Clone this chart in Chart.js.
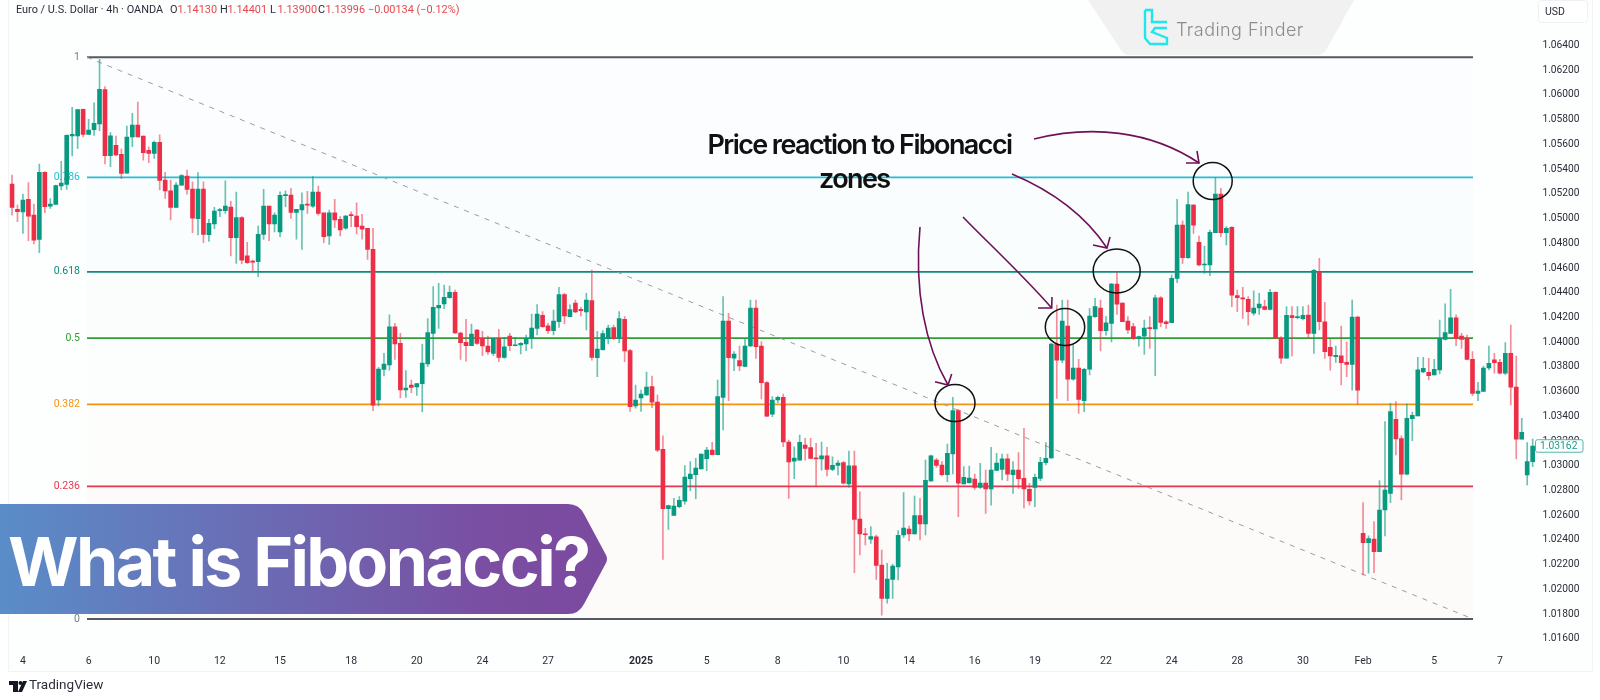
<!DOCTYPE html>
<html>
<head>
<meta charset="utf-8">
<title>What is Fibonacci?</title>
<script src="https://cdn.jsdelivr.net/npm/chart.js@4/dist/chart.umd.min.js"></script>
<style>
	html, body { margin: 0; padding: 0; background: #fff; }
	canvas { display: block; }
</style>
</head>
<body>
<canvas id="fibChart" width="1600" height="700"></canvas>
<script>
const opens = [
	1.05279,1.05074,1.05053,1.05155,1.05028,1.04832,1.05374,1.05101,1.05115,1.05263,
	1.05277,1.05668,1.05668,1.05883,1.05681,1.05719,1.05765,1.06043,1.05508,1.05592,
	1.05519,1.05368,1.05660,1.05757,1.05668,1.05552,1.05527,1.05616,1.05312,1.05225,
	1.05090,1.05271,1.05344,1.05239,1.04999,1.05239,1.04869,1.04956,1.05064,1.05064,
	1.05093,1.04845,1.05007,1.04699,1.04656,1.04651,1.04872,1.05101,1.04956,1.04891,
	1.05185,1.05190,1.05050,1.05069,1.05117,1.05101,1.05215,1.05047,1.04859,1.05047,
	1.04993,1.04923,1.05028,1.05020,1.04940,1.04921,1.04751,1.03532,1.03780,1.03815,
	1.04123,1.03990,1.03613,1.03653,1.03637,1.03664,1.03823,1.04071,1.04276,1.04309,
	1.04360,1.04403,1.04074,1.03998,1.03971,1.04098,1.04031,1.03969,1.03909,1.04028,
	1.03877,1.04050,1.03971,1.03977,1.03985,1.04028,1.04112,1.04217,1.04131,1.04093,
	1.04166,1.04384,1.04206,1.04317,1.04265,1.04244,1.04336,1.03874,1.03939,1.04028,
	1.04117,1.04028,1.04185,1.03931,1.03483,1.03548,1.03572,1.03640,1.03515,1.03133,
	1.02653,1.02599,1.02669,1.02714,1.02895,1.02928,1.02974,1.03057,1.03127,1.03089,
	1.03553,1.04171,1.03871,1.03850,1.03804,1.03969,1.04276,1.03969,1.03672,1.03418,
	1.03532,1.03553,1.03192,1.03036,1.03046,1.03168,1.03146,1.03065,1.03055,1.03081,
	1.02971,1.03003,1.03025,1.02852,1.03000,1.02569,1.02448,1.02405,1.02424,1.02197,
	1.01927,1.02080,1.02181,1.02440,1.02488,1.02448,1.02596,1.02529,1.02877,1.03046,
	1.03006,1.02928,1.03095,1.03446,1.02852,1.02863,1.02893,1.02825,1.02860,1.02812,
	1.02963,1.02971,1.03055,1.02928,1.02965,1.02898,1.02809,1.02825,1.02898,1.03025,
	1.03063,1.03985,1.03855,1.04130,1.03701,1.03790,1.03526,1.03782,1.04206,1.04276,
	1.04092,1.04152,1.04470,1.04316,1.04171,1.04125,1.04028,1.04049,1.04114,1.04106,
	1.04359,1.04165,1.04157,1.04516,1.04947,1.04683,1.05109,1.04807,1.04624,1.04624,
	1.04885,1.05198,1.04885,1.04929,1.04376,1.04359,1.04346,1.04235,1.04276,1.04287,
	1.04265,1.04403,1.04030,1.03871,1.04214,1.04198,1.04189,1.04219,1.04071,1.04565,
	1.04165,1.03958,1.03882,1.03890,1.03836,1.03820,1.04203,1.02453,1.02378,1.02407,
	1.02305,1.02642,1.02777,1.03376,1.03219,1.02931,1.03381,1.03403,1.03759,1.03756,
	1.03734,1.03775,1.04023,1.04071,1.04196,1.04050,1.04031,1.03861,1.03586,1.03602,
	1.03791,1.03856,1.03837,1.03748,1.03910,1.03637,1.03214,1.02925,1.03033
];
const highs = [
	1.05352,1.05109,1.05198,1.05290,1.05117,1.05441,1.05379,1.05161,1.05271,1.05463,
	1.05678,1.05900,1.05883,1.05886,1.05802,1.05937,1.06288,1.06067,1.05695,1.05668,
	1.05562,1.05749,1.05851,1.05943,1.05668,1.05581,1.05627,1.05678,1.05374,1.05312,
	1.05290,1.05355,1.05393,1.05298,1.05371,1.05298,1.04993,1.05090,1.05082,1.05306,
	1.05139,1.05215,1.05015,1.04807,1.04664,1.04940,1.05236,1.05101,1.05047,1.05217,
	1.05225,1.05244,1.05074,1.05209,1.05220,1.05339,1.05263,1.05042,1.05069,1.05155,
	1.05015,1.05026,1.05055,1.05128,1.05034,1.04921,1.04921,1.03796,1.03909,1.04220,
	1.04152,1.04071,1.03769,1.03693,1.03666,1.03985,1.04190,1.04449,1.04476,1.04462,
	1.04454,1.04422,1.04082,1.04185,1.04147,1.04104,1.04087,1.04050,1.04031,1.04104,
	1.04039,1.04071,1.04039,1.03996,1.04058,1.04228,1.04303,1.04247,1.04152,1.04260,
	1.04443,1.04395,1.04301,1.04341,1.04282,1.04395,1.04584,1.04087,1.04093,1.04139,
	1.04139,1.04247,1.04206,1.03941,1.03653,1.03613,1.03758,1.03726,1.03572,1.03241,
	1.02682,1.02736,1.02750,1.03001,1.03033,1.03060,1.03095,1.03149,1.03189,1.03693,
	1.04368,1.04233,1.03923,1.03969,1.04031,1.04341,1.04341,1.04004,1.03680,1.03559,
	1.03564,1.03580,1.03208,1.03154,1.03249,1.03222,1.03222,1.03181,1.03192,1.03149,
	1.03073,1.03041,1.03033,1.03119,1.03119,1.02788,1.02494,1.02507,1.02440,1.02318,
	1.02210,1.02205,1.02475,1.02782,1.02512,1.02755,1.02736,1.03046,1.03087,1.03060,
	1.03033,1.03176,1.03553,1.03457,1.02993,1.02998,1.02933,1.03020,1.02965,1.03149,
	1.03101,1.03095,1.03095,1.03033,1.03106,1.03303,1.02858,1.02933,1.03068,1.03187,
	1.03990,1.04300,1.04341,1.04341,1.03977,1.03860,1.03788,1.04273,1.04354,1.04341,
	1.04206,1.04475,1.04570,1.04319,1.04206,1.04152,1.04049,1.04179,1.04206,1.04381,
	1.04368,1.04173,1.04543,1.05155,1.04982,1.05214,1.05112,1.04858,1.04777,1.04907,
	1.05330,1.05244,1.04934,1.04934,1.04421,1.04443,1.04368,1.04416,1.04395,1.04341,
	1.04427,1.04408,1.04044,1.04287,1.04287,1.04287,1.04287,1.04300,1.04589,1.04678,
	1.04322,1.04022,1.03968,1.04130,1.04003,1.04341,1.04211,1.02701,1.02432,1.02548,
	1.02879,1.03357,1.03505,1.03519,1.03241,1.03500,1.03435,1.03877,1.03877,1.03869,
	1.03861,1.04179,1.04309,1.04427,1.04220,1.04071,1.04058,1.03923,1.03675,1.03807,
	1.03969,1.03910,1.03861,1.03996,1.04139,1.03888,1.03384,1.03187,1.03216
];
const lows = [
	1.05028,1.04975,1.04880,1.04821,1.04794,1.04724,1.05047,1.05082,1.05115,1.05231,
	1.05236,1.05506,1.05568,1.05660,1.05681,1.05673,1.05711,1.05441,1.05420,1.05506,
	1.05322,1.05366,1.05581,1.05660,1.05473,1.05452,1.05487,1.05231,1.05163,1.04988,
	1.05090,1.05268,1.05198,1.04886,1.04867,1.04805,1.04815,1.04918,1.05015,1.05042,
	1.04697,1.04637,1.04632,1.04637,1.04570,1.04529,1.04832,1.04821,1.04891,1.04853,
	1.05096,1.05001,1.04834,1.04751,1.05042,1.05090,1.05028,1.04805,1.04791,1.04929,
	1.04859,1.04912,1.04934,1.04875,1.04834,1.04670,1.03446,1.03483,1.03726,1.03774,
	1.03861,1.03548,1.03553,1.03591,1.03569,1.03435,1.03801,1.03861,1.04112,1.04271,
	1.04355,1.04071,1.03861,1.03847,1.03971,1.03982,1.03890,1.03901,1.03890,1.03842,
	1.03869,1.03931,1.03969,1.03904,1.03931,1.03950,1.04058,1.04120,1.04071,1.04058,
	1.04120,1.04147,1.04206,1.04239,1.04212,1.04098,1.03855,1.03720,1.03936,1.03985,
	1.04023,1.03996,1.03842,1.03440,1.03465,1.03440,1.03569,1.03470,1.03114,1.02243,
	1.02485,1.02599,1.02661,1.02690,1.02798,1.02733,1.02974,1.02960,1.03087,1.03087,
	1.03289,1.03526,1.03769,1.03769,1.03801,1.03963,1.03869,1.03540,1.03397,1.03397,
	1.03510,1.03154,1.02736,1.02896,1.03046,1.03046,1.03055,1.02831,1.02965,1.02917,
	1.02960,1.02925,1.02852,1.02825,1.02135,1.02278,1.02359,1.02372,1.02080,1.01792,
	1.01889,1.01927,1.02076,1.02421,1.02394,1.02448,1.02399,1.02440,1.02874,1.02987,
	1.02917,1.02871,1.02933,1.02588,1.02852,1.02858,1.02809,1.02817,1.02615,1.02682,
	1.02960,1.02885,1.02879,1.02777,1.02817,1.02658,1.02682,1.02669,1.02879,1.03006,
	1.03060,1.03545,1.03833,1.03526,1.03693,1.03424,1.03437,1.03734,1.04200,1.03928,
	1.04057,1.04001,1.04225,1.04165,1.04071,1.04022,1.03968,1.03901,1.03950,1.03728,
	1.04125,1.04111,1.04157,1.04481,1.04637,1.04678,1.04880,1.04616,1.04556,1.04537,
	1.04885,1.04853,1.04786,1.04287,1.04246,1.04192,1.04138,1.04219,1.04225,1.04260,
	1.04260,1.04030,1.03828,1.03869,1.03888,1.04187,1.04179,1.04030,1.03909,1.04098,
	1.03869,1.03774,1.03836,1.03653,1.03720,1.03612,1.03499,1.02116,1.02130,1.02135,
	1.02305,1.02432,1.02701,1.03087,1.02723,1.02925,1.03203,1.03403,1.03753,1.03694,
	1.03734,1.03742,1.04018,1.04071,1.03972,1.03950,1.03856,1.03567,1.03527,1.03602,
	1.03775,1.03748,1.03742,1.03737,1.03492,1.03055,1.03214,1.02844,1.02993
];
const closes = [
	1.05090,1.05055,1.05150,1.05020,1.04826,1.05374,1.05096,1.05117,1.05266,1.05287,
	1.05673,1.05681,1.05881,1.05681,1.05716,1.05770,1.06045,1.05508,1.05670,1.05514,
	1.05366,1.05660,1.05757,1.05660,1.05533,1.05527,1.05616,1.05309,1.05223,1.05090,
	1.05271,1.05347,1.05236,1.05004,1.05239,1.04872,1.04961,1.05061,1.05066,1.05101,
	1.04845,1.05007,1.04664,1.04643,1.04648,1.04872,1.05101,1.04956,1.05028,1.05188,
	1.05190,1.05050,1.05074,1.05112,1.05109,1.05215,1.05042,1.04853,1.05047,1.04988,
	1.04907,1.05020,1.05023,1.04934,1.04915,1.04751,1.03491,1.03782,1.03823,1.04123,
	1.03985,1.03613,1.03629,1.03634,1.03664,1.03831,1.04077,1.04282,1.04298,1.04363,
	1.04403,1.04074,1.03996,1.03971,1.04066,1.03990,1.03969,1.03920,1.04031,1.03877,
	1.03963,1.03971,1.03977,1.03990,1.04031,1.04114,1.04228,1.04125,1.04093,1.04171,
	1.04384,1.04212,1.04263,1.04244,1.04255,1.04341,1.03877,1.03944,1.04069,1.04114,
	1.04028,1.04190,1.03928,1.03478,1.03532,1.03580,1.03637,1.03515,1.03127,1.02653,
	1.02677,1.02674,1.02720,1.02909,1.02933,1.02982,1.03095,1.03127,1.03089,1.03559,
	1.04171,1.03874,1.03904,1.03807,1.03969,1.04276,1.03963,1.03672,1.03402,1.03532,
	1.03553,1.03192,1.03030,1.03063,1.03189,1.03141,1.03060,1.03055,1.03081,1.02971,
	1.03003,1.03022,1.02858,1.03000,1.02566,1.02448,1.02442,1.02426,1.02194,1.01927,
	1.02084,1.02189,1.02437,1.02496,1.02448,1.02596,1.02529,1.02882,1.03081,1.03003,
	1.02928,1.03101,1.03446,1.02858,1.02906,1.02901,1.02825,1.02860,1.02812,1.02965,
	1.03022,1.03055,1.02931,1.02965,1.02896,1.02812,1.02715,1.02906,1.03028,1.03060,
	1.03985,1.03855,1.04171,1.03701,1.03790,1.03537,1.03780,1.04211,1.04287,1.04092,
	1.04157,1.04470,1.04308,1.04165,1.04098,1.04028,1.04044,1.04114,1.04109,1.04359,
	1.04160,1.04149,1.04516,1.04947,1.04683,1.05112,1.04947,1.04624,1.04629,1.04888,
	1.05198,1.04885,1.04920,1.04381,1.04359,1.04349,1.04246,1.04276,1.04308,1.04265,
	1.04403,1.04033,1.03871,1.04216,1.04198,1.04206,1.04216,1.04071,1.04581,1.04165,
	1.03923,1.03888,1.03893,1.03833,1.03820,1.04203,1.03612,1.02378,1.02410,1.02305,
	1.02642,1.02804,1.03438,1.03216,1.02931,1.03384,1.03408,1.03775,1.03788,1.03729,
	1.03780,1.04031,1.04077,1.04196,1.04028,1.04023,1.03861,1.03586,1.03605,1.03791,
	1.03829,1.03834,1.03748,1.03910,1.03635,1.03214,1.03270,1.03033,1.03160
];

// date labels and the candle each one sits under
const timeTicks = ["4","6","10","12","15","18","20","24","27","2025","5","8","10","14","16","19","22","24","28","30","Feb","5","7"];
const timeTickIndexes = [2,14,26,38,49,62,74,86,98,115,127,140,152,164,176,187,200,212,224,236,247,260,272];

const fibRatios = [1, 0.786, 0.618, 0.5, 0.382, 0.236, 0];
const fibNames = ["1", "0.786", "0.618", "0.5", "0.382", "0.236", "0"];
const fibColors = ["#555862", "#22bfd8", "#0f8a7e", "#2f9e33", "#f2940f", "#e5384f", "#555862"];
const fibFills = ["rgba(120,123,134,0.004)", "rgba(0,188,212,0.012)", "rgba(0,150,136,0.006)", "rgba(76,175,80,0.003)", "rgba(255,152,0,0.012)", "rgba(242,54,69,0.02)"];
const fibHigh = 1.06305;
const fibLow = 1.0176;
const fibStart = 13.71;
const fibEnd = 267.1;

const lastPrice = "1.03162";
const green = "#089981";
const red = "#ec2f47";
const greenWick = "rgba(8,153,129,0.6)";
const redWick = "rgba(236,47,71,0.55)";
const tickFont = "Roboto";

const labels = opens.map((o, i) => {
	const k = timeTickIndexes.indexOf(i);
	return k < 0 ? "" : timeTicks[k];
});

function fibPrice(r) {
	return fibLow + r * (fibHigh - fibLow);
}

const fibPlugin = {
	id: "fibLevels",
	beforeDatasetsDraw(chart) {
		const ctx = chart.ctx;
		const xs = chart.scales.x;
		const ys = chart.scales.y;
		const x0 = xs.getPixelForValue(fibStart);
		const x1 = xs.getPixelForValue(fibEnd);
		ctx.save();
		fibFills.forEach((c, i) => {
			const a = ys.getPixelForValue(fibPrice(fibRatios[i]));
			const b = ys.getPixelForValue(fibPrice(fibRatios[i + 1]));
			ctx.fillStyle = c;
			ctx.fillRect(x0, a, x1 - x0, b - a);
		});
		ctx.font = "10.5px " + tickFont;
		ctx.textAlign = "right";
		ctx.textBaseline = "middle";
		fibRatios.forEach((r, i) => {
			const y = ys.getPixelForValue(fibPrice(r));
			ctx.strokeStyle = fibColors[i];
			ctx.lineWidth = 1.8;
			ctx.beginPath();
			ctx.moveTo(x0, y);
			ctx.lineTo(x1, y);
			ctx.stroke();
			ctx.fillStyle = i === 0 || i === 6 ? "#787b86" : fibColors[i];
			ctx.fillText(fibNames[i], x0 - 7, y);
		});
		// trend line between the two anchors
		ctx.strokeStyle = "#9a9ca5";
		ctx.lineWidth = 1;
		ctx.setLineDash([5, 6]);
		ctx.beginPath();
		ctx.moveTo(x0, ys.getPixelForValue(fibHigh));
		ctx.lineTo(x1, ys.getPixelForValue(fibLow));
		ctx.stroke();
		ctx.restore();
	},
};

function arrow(ctx, path, tip, a, b) {
	ctx.beginPath();
	ctx.moveTo(path[0], path[1]);
	ctx.bezierCurveTo(path[2], path[3], path[4], path[5], tip[0], tip[1]);
	ctx.stroke();
	ctx.beginPath();
	ctx.moveTo(a[0], a[1]);
	ctx.lineTo(tip[0], tip[1]);
	ctx.lineTo(b[0], b[1]);
	ctx.stroke();
}

function ring(ctx, x, y, rx, ry) {
	ctx.beginPath();
	ctx.ellipse(x, y, rx, ry, 0, 0, Math.PI * 2);
	ctx.stroke();
}

const overlayPlugin = {
	id: "overlay",
	beforeDraw(chart) {
		const ctx = chart.ctx;
		ctx.save();
		ctx.fillStyle = "#fff";
		ctx.fillRect(0, 0, 1600, 700);
		ctx.fillStyle = "#fdfefe";
		ctx.fillRect(9, 0, 1583, 671);
		ctx.strokeStyle = "#f1f3f5";
		ctx.lineWidth = 1;
		ctx.beginPath();
		ctx.moveTo(8.5, 0);
		ctx.lineTo(8.5, 671.5);
		ctx.lineTo(1592.5, 671.5);
		ctx.lineTo(1592.5, 0);
		ctx.stroke();
		ctx.restore();
	},
	afterDraw(chart) {
		const ctx = chart.ctx;
		ctx.save();

		// legend row
		ctx.textAlign = "left";
		ctx.textBaseline = "middle";
		ctx.font = "10.9px " + tickFont;
		ctx.fillStyle = "#2a2e39";
		ctx.fillText("Euro / U.S. Dollar · 4h · OANDA", 16, 10);
		[["O", "1.14130", 170], ["H", "1.14401", 220], ["L", "1.13900", 270], ["C", "1.13996", 318]].forEach((p) => {
			ctx.fillStyle = "#2a2e39";
			ctx.fillText(p[0], p[2], 10);
			ctx.fillStyle = "#e5484d";
			ctx.fillText(p[1], p[2] + 7.5, 10);
		});
		ctx.fillText("−0.00134 (−0.12%)", 368, 10);

		// watermark
		ctx.fillStyle = "#f1f1f1";
		ctx.beginPath();
		ctx.moveTo(1088, 0);
		ctx.lineTo(1354, 0);
		ctx.lineTo(1326, 50);
		ctx.quadraticCurveTo(1323, 55, 1316, 55);
		ctx.lineTo(1130, 55);
		ctx.quadraticCurveTo(1124, 55, 1121, 50);
		ctx.closePath();
		ctx.fill();
		ctx.strokeStyle = "#22e6ee";
		ctx.lineWidth = 2.4;
		ctx.beginPath();
		ctx.moveTo(1145, 10);
		ctx.lineTo(1152, 10);
		ctx.lineTo(1152, 22);
		ctx.lineTo(1167, 22);
		ctx.moveTo(1167, 28);
		ctx.lineTo(1155, 28);
		ctx.lineTo(1152, 32);
		ctx.lineTo(1167, 38);
		ctx.lineTo(1167, 44);
		ctx.lineTo(1150, 44);
		ctx.lineTo(1145, 38);
		ctx.lineTo(1145, 10);
		ctx.stroke();
		ctx.fillStyle = "#8b8b8b";
		ctx.font = "300 18px Inter";
		ctx.letterSpacing = "0.45px";
		ctx.fillText("Trading Finder", 1176, 31);
		ctx.letterSpacing = "0px";

		// USD box
		ctx.fillStyle = "#fff";
		ctx.strokeStyle = "#eef0f3";
		ctx.lineWidth = 1;
		ctx.beginPath();
		ctx.roundRect(1538.5, 0.5, 49, 22, 3);
		ctx.fill();
		ctx.stroke();
		ctx.fillStyle = "#2a2e39";
		ctx.font = "10.5px " + tickFont;
		ctx.fillText("USD", 1545, 12);

		// last price box
		const py = chart.scales.y.getPixelForValue(parseFloat(lastPrice));
		ctx.fillStyle = "#fff";
		ctx.strokeStyle = "#4fb8a6";
		ctx.beginPath();
		ctx.roundRect(1535.5, py - 6, 47.5, 12.5, 2);
		ctx.fill();
		ctx.stroke();
		ctx.fillStyle = "#199e88";
		ctx.font = "10.3px " + tickFont;
		ctx.fillText(lastPrice, 1540, py + 0.5);

		// reaction circles
		ctx.strokeStyle = "#111";
		ctx.lineWidth = 1.5;
		ring(ctx, 955, 403, 20, 18.5);
		ring(ctx, 1065, 327, 19.7, 18.5);
		ring(ctx, 1116.7, 271, 23.5, 22);
		ring(ctx, 1212.7, 181, 19.5, 18.5);

		// arrows to the circles
		ctx.strokeStyle = "#6f1058";
		ctx.lineWidth = 1.6;
		arrow(ctx, [920, 227, 914, 290, 925, 345], [948, 385], [951.7, 374], [935, 381.7]);
		arrow(ctx, [963, 217, 985, 240, 1020, 272], [1051.7, 308], [1052, 297], [1038, 308]);
		arrow(ctx, [1012, 174, 1050, 190, 1085, 215], [1107, 248], [1110, 237], [1093, 245]);
		arrow(ctx, [1034, 139, 1090, 125, 1150, 130], [1199, 163], [1197, 151], [1186, 163]);

		// annotation text
		ctx.fillStyle = "#111";
		ctx.textAlign = "left";
		ctx.textBaseline = "alphabetic";
		ctx.font = "600 27px Inter";
		ctx.letterSpacing = "-1.6px";
		ctx.fillText("Price reaction to Fibonacci", 707.5, 154);
		ctx.fillText("zones", 819, 188);
		ctx.letterSpacing = "0px";

		// banner
		const grad = ctx.createLinearGradient(0, 0, 608, 0);
		grad.addColorStop(0, "#5a8dc8");
		grad.addColorStop(0.8, "#7a4ea2");
		grad.addColorStop(1, "#7a4a9f");
		ctx.fillStyle = grad;
		ctx.beginPath();
		ctx.moveTo(0, 504);
		ctx.lineTo(568, 504);
		ctx.quadraticCurveTo(579, 504, 584, 514);
		ctx.lineTo(606, 555);
		ctx.quadraticCurveTo(608, 559, 606, 563);
		ctx.lineTo(584, 604);
		ctx.quadraticCurveTo(579, 614, 568, 614);
		ctx.lineTo(0, 614);
		ctx.closePath();
		ctx.fill();
		ctx.fillStyle = "#fff";
		ctx.font = "700 68px Inter";
		ctx.letterSpacing = "-2.6px";
		ctx.fillText("What is Fibonacci?", 8, 586);
		ctx.letterSpacing = "0px";

		// TradingView mark
		ctx.fillStyle = "#131722";
		ctx.fillRect(9, 681, 9, 4);
		ctx.fillRect(13, 681, 5, 11);
		ctx.beginPath();
		ctx.arc(20.5, 683, 2, 0, Math.PI * 2);
		ctx.fill();
		ctx.beginPath();
		ctx.moveTo(23, 681);
		ctx.lineTo(27, 681);
		ctx.lineTo(22, 692);
		ctx.lineTo(18, 692);
		ctx.closePath();
		ctx.fill();
		ctx.fillStyle = "#2a2e39";
		ctx.font = "13.5px " + tickFont;
		ctx.textBaseline = "middle";
		ctx.fillText("TradingView", 29, 686);
		ctx.restore();
	},
};

new Chart(document.getElementById("fibChart"), {
	type: "bar",
	data: {
		labels: labels,
		datasets: [
			{
				label: "body",
				data: opens.map((o, i) => [o, closes[i]]),
				backgroundColor: opens.map((o, i) => (closes[i] >= o ? green : red)),
				barThickness: 4,
				minBarLength: 1,
				grouped: false,
				order: 1,
			},
			{
				label: "wick",
				data: highs.map((h, i) => [lows[i], h]),
				backgroundColor: opens.map((o, i) => (closes[i] >= o ? greenWick : redWick)),
				barThickness: 1,
				grouped: false,
				order: 2,
			},
		],
	},
	options: {
		responsive: false,
		animation: false,
		events: [],
		layout: { padding: { left: 9.27, top: 6, right: 8.6, bottom: 30 } },
		plugins: { legend: { display: false }, tooltip: { enabled: false } },
		scales: {
			x: {
				grid: { display: false, drawTicks: false },
				border: { display: false },
				afterFit: (s) => { s.height = 24; },
				ticks: {
					autoSkip: false,
					maxRotation: 0,
					padding: 9,
					color: "#2a2e39",
					font: (c) => ({ family: tickFont, size: 10.5, weight: c.tick && c.tick.label === "2025" ? "bold" : "normal" }),
					callback: (v, i) => labels[i],
				},
			},
			y: {
				position: "right",
				min: 1.015416,
				max: 1.06662,
				grid: { display: false, drawTicks: false },
				border: { display: false },
				afterFit: (s) => { s.width = 56; },
				ticks: {
					stepSize: 0.002,
					includeBounds: false,
					padding: 7,
					color: "#2a2e39",
					font: { family: tickFont, size: 10.2 },
					callback: (v) => (v > 1.0645 ? "" : v.toFixed(5)),
				},
			},
		},
	},
	plugins: [overlayPlugin, fibPlugin],
});
</script>
</body>
</html>
